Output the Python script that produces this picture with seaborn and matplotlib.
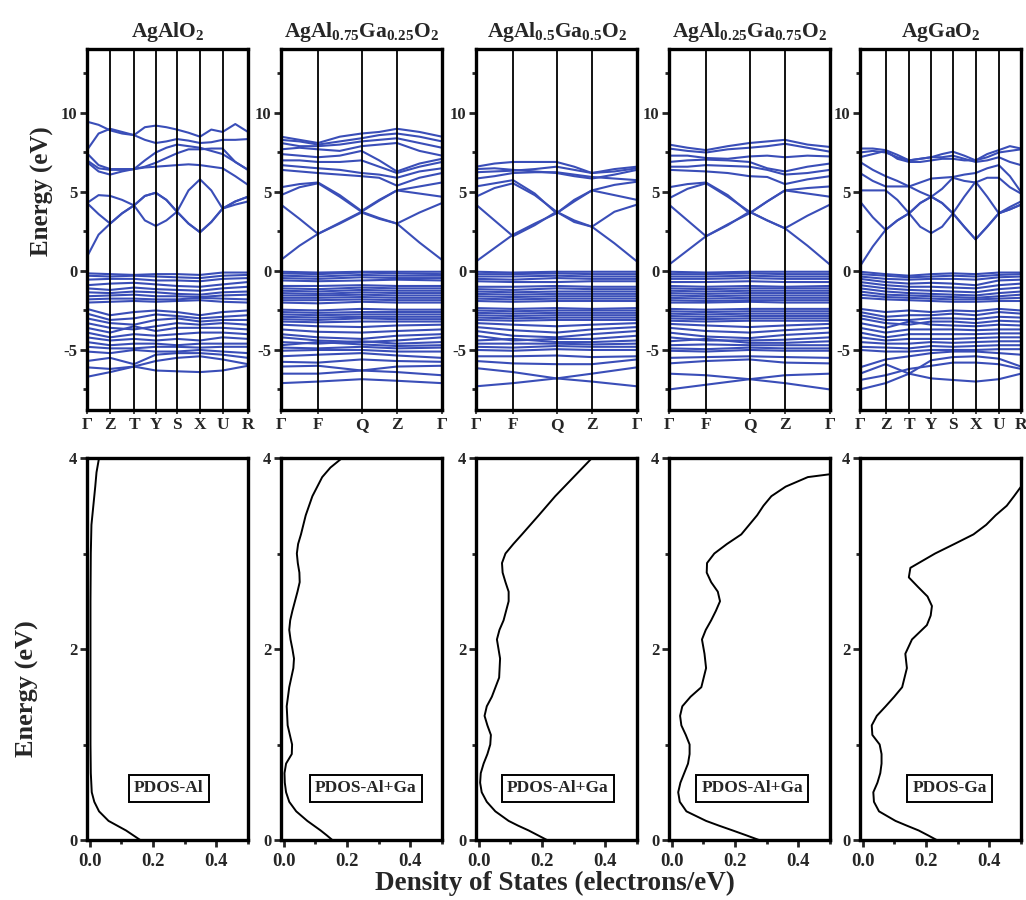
import numpy as np
import pandas as pd
import matplotlib
matplotlib.use("Agg")
import matplotlib.pyplot as plt
import seaborn as sns

# ---------------- data ----------------
titles = [r"AgAlO$_2$", r"AgAl$_{0.75}$Ga$_{0.25}$O$_2$", r"AgAl$_{0.5}$Ga$_{0.5}$O$_2$",
          r"AgAl$_{0.25}$Ga$_{0.75}$O$_2$", r"AgGaO$_2$"]
pdos_labels = ["PDOS-Al", "PDOS-Al+Ga", "PDOS-Al+Ga", "PDOS-Al+Ga", "PDOS-Ga"]

kpath_ortho = ["Γ", "Z", "T", "Y", "S", "X", "U", "R"]
kpath_ortho_pos1 = [0, 0.144, 0.292, 0.427, 0.559, 0.702, 0.842, 1.0]
kpath_ortho_pos5 = [0, 0.159, 0.305, 0.443, 0.577, 0.718, 0.862, 1.0]
kpath_mono = ["Γ", "F", "Q", "Z", "Γ"]
kpath_mono_pos = [0, 0.23, 0.50, 0.72, 1.0]

# conduction bands (values at nodes and midpoints)
cb_agalo2 = [
    [0.9, 2.3, 3.0, 3.65, 4.15, 4.75, 4.95, 4.5, 3.75, 3.0, 2.45, 3.1, 3.95, 4.4, 4.7],
    [4.3, 4.8, 4.75, 4.5, 4.15, 3.2, 2.85, 3.2, 3.75, 5.1, 5.8, 5.1, 3.95, 4.2, 4.4],
    [4.3, 3.6, 3.0, 3.65, 4.15, 4.75, 4.95, 4.5, 3.75, 3.0, 2.45, 3.1, 3.95, 4.4, 4.7],
    [9.45, 9.25, 8.9, 8.7, 8.6, 9.1, 9.2, 9.1, 8.95, 8.75, 8.5, 8.95, 8.8, 9.3, 8.8],
    [7.65, 8.7, 9.0, 8.8, 8.6, 8.3, 8.1, 8.2, 8.35, 8.25, 8.1, 8.15, 8.3, 8.3, 8.35],
    [7.45, 6.7, 6.45, 6.45, 6.45, 6.6, 6.85, 7.15, 7.45, 7.7, 7.7, 7.75, 7.75, 6.9, 6.4],
    [6.9, 6.3, 6.1, 6.3, 6.45, 6.55, 6.6, 6.65, 6.7, 6.75, 6.7, 6.6, 6.5, 6.0, 5.45],
    [7.0, 6.5, 6.4, 6.4, 6.45, 7.0, 7.5, 7.8, 8.0, 7.9, 7.8, 7.6, 7.4, 6.9, 6.4],
]
cb_ag075 = [
    [0.7, 1.6, 2.35, 3.05, 3.75, 4.45, 5.1, 5.35, 5.6],
    [4.2, 3.3, 2.35, 3.0, 3.7, 3.3, 3.0, 1.8, 0.7],
    [4.8, 5.3, 5.55, 4.7, 3.75, 3.35, 3.0, 3.7, 4.3],
    [5.3, 5.5, 5.6, 4.8, 3.8, 4.5, 5.1, 4.9, 4.7],
    [8.5, 8.3, 8.1, 8.5, 8.7, 8.8, 9.0, 8.8, 8.5],
    [8.3, 8.2, 8.0, 8.2, 8.4, 8.6, 8.7, 8.5, 8.2],
    [8.1, 7.9, 7.9, 8.0, 8.2, 8.3, 8.4, 8.1, 7.8],
    [7.7, 7.8, 7.7, 7.6, 7.9, 8.0, 8.1, 7.6, 7.3],
    [7.4, 7.3, 7.2, 7.3, 7.6, 7.0, 6.3, 6.8, 7.1],
    [7.0, 7.0, 6.9, 6.9, 7.0, 6.6, 6.2, 6.6, 6.9],
    [6.7, 6.6, 6.5, 6.4, 6.2, 6.1, 5.9, 6.3, 6.5],
    [6.4, 6.3, 6.2, 6.1, 6.0, 5.9, 5.4, 5.9, 6.2],
]
cb_ag05 = [
    [0.6, 1.45, 2.3, 3.0, 3.65, 4.4, 5.1, 5.45, 5.65],
    [4.2, 3.2, 2.2, 2.9, 3.75, 3.2, 2.8, 1.75, 0.6],
    [4.7, 5.25, 5.55, 4.8, 3.75, 3.1, 2.8, 3.75, 4.2],
    [5.35, 5.55, 5.75, 4.9, 3.65, 4.5, 5.1, 4.8, 4.5],
    [6.6, 6.8, 6.9, 6.9, 6.9, 6.6, 6.2, 6.45, 6.6],
    [6.45, 6.5, 6.4, 6.3, 6.2, 6.0, 5.85, 6.1, 6.4],
    [5.85, 6.0, 6.2, 6.25, 6.25, 6.1, 5.95, 5.85, 5.75],
    [6.25, 6.3, 6.35, 6.45, 6.6, 6.4, 6.2, 6.3, 6.5],
]
cb_ag025 = [
    [0.4, 1.3, 2.2, 2.95, 3.65, 4.4, 5.1, 5.25, 5.35],
    [4.2, 3.2, 2.2, 2.9, 3.75, 3.2, 2.7, 1.6, 0.4],
    [4.6, 5.2, 5.55, 4.7, 3.75, 3.2, 2.7, 3.5, 4.2],
    [5.3, 5.5, 5.6, 4.8, 3.65, 4.4, 5.1, 4.9, 4.7],
    [8.0, 7.8, 7.65, 7.9, 8.1, 8.2, 8.3, 8.0, 7.85],
    [7.75, 7.6, 7.5, 7.7, 7.8, 7.9, 8.05, 7.8, 7.55],
    [7.3, 7.3, 7.15, 7.1, 7.25, 7.3, 7.2, 7.3, 7.25],
    [6.9, 7.0, 7.05, 7.0, 6.9, 6.5, 6.3, 6.6, 6.8],
    [6.6, 6.6, 6.7, 6.65, 6.6, 6.4, 6.1, 6.2, 6.4],
    [6.4, 6.35, 6.3, 6.2, 6.0, 5.95, 5.5, 5.8, 6.0],
]
cb_aggao2 = [
    [0.3, 1.55, 2.6, 3.2, 3.65, 4.3, 4.7, 4.3, 3.65, 2.8, 2.0, 2.8, 3.65, 3.9, 4.2],
    [4.4, 3.4, 2.6, 3.2, 3.65, 4.3, 4.7, 4.3, 3.65, 2.8, 2.0, 2.8, 3.65, 3.9, 4.2],
    [5.1, 5.1, 5.1, 4.5, 3.65, 2.8, 2.4, 2.8, 3.65, 4.7, 5.65, 4.7, 3.65, 4.05, 4.4],
    [7.75, 7.75, 7.65, 7.35, 7.0, 7.1, 7.2, 7.4, 7.55, 7.3, 7.0, 7.4, 7.65, 7.9, 7.75],
    [7.5, 7.6, 7.5, 7.2, 7.0, 7.1, 7.2, 7.2, 7.3, 7.1, 6.9, 7.0, 7.2, 6.9, 6.7],
    [6.9, 6.4, 6.0, 5.7, 5.35, 5.6, 5.85, 5.9, 5.95, 6.1, 6.2, 6.5, 6.7, 6.0, 5.0],
    [6.2, 5.7, 5.35, 5.35, 5.35, 5.0, 4.7, 5.2, 5.9, 5.7, 5.6, 5.9, 5.9, 5.3, 4.9],
    [7.2, 7.4, 7.6, 7.1, 6.9, 6.9, 7.0, 7.1, 7.1, 7.0, 7.0, 7.2, 7.5, 7.6, 7.7],
]

# valence bands (values at high-symmetry nodes)
vb_agalo2 = [
    [-0.15, -0.2, -0.25, -0.2, -0.2, -0.25, -0.1, -0.1],
    [-0.3, -0.35, -0.3, -0.35, -0.4, -0.45, -0.3, -0.25],
    [-0.55, -0.5, -0.5, -0.6, -0.6, -0.65, -0.5, -0.45],
    [-0.9, -0.8, -0.75, -0.85, -0.95, -1.0, -0.85, -0.7],
    [-1.1, -1.2, -1.05, -1.15, -1.2, -1.25, -1.1, -1.0],
    [-1.35, -1.4, -1.3, -1.35, -1.45, -1.5, -1.35, -1.3],
    [-1.6, -1.55, -1.5, -1.6, -1.6, -1.65, -1.55, -1.5],
    [-1.8, -1.75, -1.75, -1.8, -1.8, -1.7, -1.75, -1.8],
    [-2.0, -1.95, -1.9, -1.95, -1.9, -1.85, -1.95, -2.0],
    [-2.4, -2.8, -2.6, -2.5, -2.6, -2.8, -2.6, -2.5],
    [-2.7, -3.1, -3.0, -2.75, -2.85, -3.0, -2.9, -2.8],
    [-3.0, -3.3, -3.4, -3.1, -3.0, -3.2, -3.1, -3.1],
    [-3.3, -3.6, -3.7, -3.5, -3.3, -3.4, -3.3, -3.4],
    [-3.6, -3.9, -3.5, -3.8, -3.6, -3.6, -3.6, -3.7],
    [-3.9, -4.2, -4.0, -4.1, -4.0, -3.9, -3.9, -4.0],
    [-4.2, -4.4, -4.3, -4.4, -4.3, -4.4, -4.2, -4.3],
    [-4.5, -4.7, -4.6, -4.6, -4.7, -4.6, -4.6, -4.6],
    [-4.8, -4.9, -4.9, -4.8, -4.8, -4.85, -4.8, -4.8],
    [-5.1, -5.2, -5.0, -5.1, -5.1, -5.0, -5.1, -5.2],
    [-6.7, -6.4, -6.05, -6.3, -6.35, -6.4, -6.3, -6.0],
    [-6.1, -6.2, -6.05, -5.7, -5.5, -5.4, -5.6, -5.9],
    [-5.7, -5.5, -5.9, -5.3, -5.2, -5.2, -5.3, -5.5],
]
vb_ag075 = [
    [-0.05, -0.1, -0.05, -0.05, -0.05], [-0.15, -0.2, -0.1, -0.15, -0.2],
    [-0.3, -0.35, -0.25, -0.3, -0.3], [-0.45, -0.5, -0.4, -0.45, -0.45],
    [-0.6, -0.65, -0.6, -0.55, -0.6], [-0.95, -0.95, -0.9, -0.95, -0.95],
    [-1.1, -1.15, -1.05, -1.1, -1.1], [-1.25, -1.3, -1.2, -1.25, -1.25],
    [-1.4, -1.45, -1.35, -1.4, -1.4], [-1.55, -1.55, -1.5, -1.55, -1.55],
    [-1.7, -1.7, -1.65, -1.7, -1.7], [-1.85, -1.85, -1.8, -1.85, -1.85],
    [-2.0, -2.05, -1.95, -2.0, -2.0], [-2.45, -2.5, -2.4, -2.45, -2.45],
    [-2.6, -2.65, -2.6, -2.6, -2.6], [-2.75, -2.8, -2.75, -2.75, -2.75],
    [-2.9, -2.95, -2.9, -2.9, -2.9], [-3.05, -3.1, -3.0, -3.05, -3.05],
    [-3.2, -3.25, -3.2, -3.2, -3.2], [-3.4, -3.5, -3.55, -3.45, -3.4],
    [-3.7, -3.85, -3.9, -3.8, -3.7], [-4.0, -4.2, -4.3, -4.1, -4.0],
    [-4.2, -4.4, -4.5, -4.4, -4.2], [-4.5, -4.6, -4.45, -4.6, -4.5],
    [-4.7, -4.5, -4.65, -4.75, -4.7], [-4.85, -4.9, -4.8, -4.9, -4.85],
    [-5.05, -5.0, -5.0, -5.1, -5.1],
    [-7.1, -7.0, -6.85, -6.95, -7.1], [-6.5, -6.5, -6.3, -6.4, -6.6],
    [-6.05, -6.0, -6.3, -6.05, -6.0], [-5.75, -5.8, -5.6, -5.7, -5.75],
    [-5.4, -5.3, -5.2, -5.35, -5.5],
]
vb_ag05 = [
    [-0.05, -0.1, -0.05, -0.05, -0.05], [-0.2, -0.2, -0.15, -0.2, -0.2],
    [-0.35, -0.35, -0.3, -0.35, -0.35], [-0.5, -0.55, -0.45, -0.5, -0.5],
    [-0.65, -0.7, -0.7, -0.65, -0.65], [-1.0, -1.0, -0.95, -1.0, -1.0],
    [-1.15, -1.2, -1.1, -1.15, -1.15], [-1.3, -1.35, -1.3, -1.3, -1.3],
    [-1.45, -1.5, -1.45, -1.45, -1.45], [-1.6, -1.65, -1.6, -1.6, -1.6],
    [-1.75, -1.8, -1.75, -1.75, -1.75], [-1.9, -1.95, -1.9, -1.9, -1.9],
    [-2.35, -2.4, -2.35, -2.4, -2.35], [-2.5, -2.55, -2.5, -2.5, -2.5],
    [-2.65, -2.7, -2.65, -2.65, -2.65], [-2.8, -2.85, -2.8, -2.8, -2.8],
    [-2.95, -3.0, -2.95, -2.95, -2.95], [-3.1, -3.15, -3.1, -3.1, -3.1],
    [-3.3, -3.4, -3.5, -3.4, -3.3], [-3.55, -3.75, -3.9, -3.7, -3.55],
    [-3.8, -4.1, -4.2, -4.0, -3.8], [-4.1, -4.4, -4.3, -4.3, -4.1],
    [-4.4, -4.3, -4.5, -4.5, -4.4], [-4.6, -4.6, -4.6, -4.65, -4.6],
    [-4.8, -4.85, -4.75, -4.8, -4.8], [-5.0, -5.05, -4.95, -5.0, -5.0],
    [-7.3, -7.1, -6.8, -7.0, -7.3], [-6.15, -6.4, -6.8, -6.5, -6.1],
    [-5.7, -5.85, -5.9, -5.9, -5.6], [-5.4, -5.4, -5.35, -5.45, -5.4],
]
vb_ag025 = [
    [-0.05, -0.1, -0.05, -0.05, -0.05], [-0.2, -0.2, -0.15, -0.2, -0.2],
    [-0.35, -0.35, -0.3, -0.35, -0.35], [-0.5, -0.5, -0.45, -0.5, -0.5],
    [-0.7, -0.7, -0.65, -0.7, -0.7], [-0.95, -1.0, -0.95, -1.0, -0.95],
    [-1.1, -1.15, -1.1, -1.1, -1.1], [-1.25, -1.3, -1.25, -1.25, -1.25],
    [-1.4, -1.45, -1.4, -1.4, -1.4], [-1.55, -1.6, -1.55, -1.55, -1.55],
    [-1.7, -1.75, -1.7, -1.7, -1.7], [-1.85, -1.9, -1.85, -1.85, -1.85],
    [-2.0, -2.0, -1.95, -2.0, -2.0], [-2.4, -2.45, -2.4, -2.4, -2.4],
    [-2.55, -2.6, -2.55, -2.55, -2.55], [-2.7, -2.75, -2.7, -2.7, -2.7],
    [-2.85, -2.9, -2.85, -2.85, -2.85], [-3.0, -3.05, -3.0, -3.0, -3.0],
    [-3.15, -3.2, -3.15, -3.15, -3.15], [-3.35, -3.45, -3.55, -3.45, -3.35],
    [-3.6, -3.8, -3.9, -3.75, -3.6], [-3.9, -4.15, -4.25, -4.05, -3.9],
    [-4.2, -4.4, -4.4, -4.35, -4.2], [-4.45, -4.3, -4.55, -4.55, -4.45],
    [-4.7, -4.65, -4.7, -4.7, -4.7], [-4.9, -4.95, -4.85, -4.9, -4.9],
    [-5.05, -5.1, -5.0, -5.05, -5.05],
    [-7.5, -7.2, -6.85, -7.1, -7.5], [-6.5, -6.6, -6.85, -6.6, -6.5],
    [-5.85, -5.7, -5.6, -5.8, -5.85], [-5.5, -5.45, -5.4, -5.45, -5.5],
]
vb_aggao2 = [
    [-0.05, -0.2, -0.3, -0.2, -0.15, -0.2, -0.1, -0.1],
    [-0.2, -0.3, -0.4, -0.35, -0.3, -0.35, -0.25, -0.2],
    [-0.35, -0.5, -0.55, -0.5, -0.5, -0.55, -0.4, -0.35],
    [-0.5, -0.7, -0.8, -0.75, -0.8, -0.9, -0.6, -0.55],
    [-0.7, -0.9, -1.0, -1.0, -1.05, -1.1, -0.9, -0.8],
    [-0.9, -1.1, -1.2, -1.25, -1.3, -1.35, -1.15, -1.05],
    [-1.1, -1.3, -1.4, -1.45, -1.5, -1.55, -1.4, -1.3],
    [-1.3, -1.5, -1.55, -1.6, -1.65, -1.7, -1.6, -1.5],
    [-1.5, -1.65, -1.7, -1.75, -1.8, -1.8, -1.75, -1.7],
    [-1.7, -1.8, -1.85, -1.9, -1.95, -1.95, -1.9, -1.9],
    [-2.4, -2.6, -2.5, -2.6, -2.5, -2.55, -2.4, -2.5],
    [-2.6, -2.9, -2.8, -2.8, -2.7, -2.8, -2.6, -2.7],
    [-2.8, -3.1, -3.1, -3.0, -3.0, -3.05, -2.9, -2.95],
    [-3.0, -3.3, -3.4, -3.2, -3.2, -3.3, -3.15, -3.2],
    [-3.3, -3.6, -3.2, -3.4, -3.45, -3.5, -3.4, -3.45],
    [-3.6, -3.9, -3.7, -3.7, -3.7, -3.75, -3.7, -3.7],
    [-3.9, -4.2, -4.0, -4.0, -4.0, -4.0, -3.95, -3.95],
    [-4.2, -4.4, -4.3, -4.3, -4.3, -4.25, -4.2, -4.2],
    [-4.5, -4.6, -4.6, -4.5, -4.55, -4.5, -4.45, -4.45],
    [-4.8, -4.85, -4.9, -4.75, -4.8, -4.75, -4.7, -4.7],
    [-5.0, -5.1, -5.1, -5.0, -5.0, -5.0, -4.95, -4.95],
    [-7.5, -7.1, -6.5, -6.8, -6.9, -7.0, -6.85, -6.5],
    [-6.5, -5.9, -6.5, -5.65, -5.45, -5.4, -5.55, -6.05],
    [-6.1, -5.6, -5.4, -5.2, -5.1, -5.1, -5.2, -5.3],
    [-6.9, -6.6, -6.2, -6.0, -5.8, -5.8, -5.9, -6.2],
]

# PDOS curves (energy, dos)
pdos_al_E = [0, 0.1, 0.2, 0.3, 0.4, 0.5, 0.7, 1.0, 1.5, 2.0, 2.5, 3.0, 3.3, 3.5, 3.7, 3.85, 4.0]
pdos_al_D = [0.16, 0.115, 0.06, 0.03, 0.015, 0.007, 0.004, 0.003, 0.003, 0.003, 0.003, 0.004,
             0.006, 0.012, 0.018, 0.022, 0.03]
pdos_075_E = [0, 0.05, 0.1, 0.15, 0.2, 0.3, 0.4, 0.5, 0.6, 0.7, 0.8, 0.9, 1.0, 1.1, 1.2, 1.4,
              1.6, 1.8, 1.9, 2.0, 2.1, 2.2, 2.3, 2.4, 2.5, 2.6, 2.7, 2.8, 2.9, 3.0, 3.1, 3.2,
              3.4, 3.6, 3.8, 3.9, 4.0]
pdos_075_D = [0.154, 0.136, 0.117, 0.096, 0.075, 0.04, 0.018, 0.008, 0.004, 0.003, 0.008, 0.026,
              0.027, 0.02, 0.013, 0.01, 0.018, 0.031, 0.033, 0.028, 0.022, 0.018, 0.021, 0.028,
              0.036, 0.044, 0.051, 0.05, 0.045, 0.042, 0.046, 0.055, 0.07, 0.091, 0.122, 0.148,
              0.185]
pdos_05_E = [0, 0.05, 0.1, 0.15, 0.2, 0.3, 0.4, 0.5, 0.6, 0.7, 0.8, 0.9, 1.0, 1.1, 1.2, 1.3,
             1.4, 1.5, 1.7, 1.9, 2.0, 2.1, 2.2, 2.3, 2.5, 2.6, 2.7, 2.8, 2.9, 3.0, 3.1, 3.2,
             3.4, 3.6, 3.8, 4.0]
pdos_05_D = [0.216, 0.187, 0.158, 0.125, 0.095, 0.053, 0.026, 0.01, 0.005, 0.007, 0.016, 0.028,
             0.037, 0.039, 0.028, 0.019, 0.026, 0.042, 0.065, 0.068, 0.063, 0.058, 0.066, 0.079,
             0.095, 0.095, 0.085, 0.076, 0.074, 0.085, 0.11, 0.137, 0.19, 0.242, 0.3, 0.358]
pdos_025_E = [0, 0.05, 0.1, 0.15, 0.2, 0.3, 0.4, 0.5, 0.6, 0.7, 0.8, 0.9, 1.0, 1.1, 1.2, 1.3,
              1.4, 1.5, 1.6, 1.8, 1.95, 2.1, 2.2, 2.3, 2.4, 2.5, 2.6, 2.7, 2.8, 2.9, 3.0, 3.1,
              3.2, 3.4, 3.5, 3.6, 3.7, 3.8, 3.83]
pdos_025_D = [0.276, 0.235, 0.193, 0.15, 0.109, 0.047, 0.026, 0.021, 0.028, 0.04, 0.052, 0.057,
              0.057, 0.045, 0.031, 0.027, 0.034, 0.06, 0.094, 0.109, 0.104, 0.096, 0.108, 0.125,
              0.14, 0.153, 0.146, 0.125, 0.111, 0.112, 0.135, 0.175, 0.22, 0.27, 0.29, 0.315,
              0.36, 0.43, 0.5]
pdos_ga_E = [0, 0.05, 0.1, 0.15, 0.2, 0.3, 0.4, 0.5, 0.6, 0.7, 0.8, 0.9, 1.0, 1.1, 1.2, 1.3,
             1.4, 1.5, 1.6, 1.8, 1.95, 2.1, 2.25, 2.35, 2.45, 2.55, 2.65, 2.75, 2.85, 3.0, 3.1,
             3.2, 3.3, 3.4, 3.5, 3.6, 3.7]
pdos_ga_D = [0.234, 0.206, 0.177, 0.14, 0.104, 0.052, 0.036, 0.034, 0.047, 0.056, 0.06, 0.06,
             0.054, 0.031, 0.029, 0.045, 0.073, 0.1, 0.125, 0.14, 0.135, 0.156, 0.203, 0.215,
             0.219, 0.205, 0.175, 0.146, 0.151, 0.229, 0.29, 0.35, 0.39, 0.42, 0.455, 0.478,
             0.5]

# ---------------- style ----------------
sns.set_style("ticks")
plt.rcParams["font.family"] = ["Liberation Serif", "DejaVu Serif"]
plt.rcParams["font.weight"] = "bold"
plt.rcParams["mathtext.fontset"] = "custom"
plt.rcParams["mathtext.rm"] = "Liberation Serif:bold"
plt.rcParams["mathtext.it"] = "Liberation Serif:bold"
plt.rcParams["mathtext.bf"] = "Liberation Serif:bold"
plt.rcParams["axes.unicode_minus"] = False

BLUE = "#3a4eb8"
W, H = 1026, 900
fig = plt.figure(figsize=(W / 100, H / 100), dpi=100)

lefts = [87, 281, 476, 669, 860]
pw = 161


def frac_rect(x0, y0, x1, y1):
    return [x0 / W, 1 - y1 / H, (x1 - x0) / W, (y1 - y0) / H]


band_sets = [
    (cb_agalo2, vb_agalo2, kpath_ortho, kpath_ortho_pos1),
    (cb_ag075, vb_ag075, kpath_mono, kpath_mono_pos),
    (cb_ag05, vb_ag05, kpath_mono, kpath_mono_pos),
    (cb_ag025, vb_ag025, kpath_mono, kpath_mono_pos),
    (cb_aggao2, vb_aggao2, kpath_ortho, kpath_ortho_pos5),
]
pdos_sets = [(pdos_al_E, pdos_al_D), (pdos_075_E, pdos_075_D), (pdos_05_E, pdos_05_D),
             (pdos_025_E, pdos_025_D), (pdos_ga_E, pdos_ga_D)]
label_x = [0.25, 0.26, 0.25, 0.255, 0.275]


def style_frame(ax):
    for s in ax.spines.values():
        s.set_linewidth(2.4)
        s.set_color("black")
        s.set_visible(True)


for i in range(5):
    cb, vb, klabels, kpos = band_sets[i]
    ax = fig.add_axes(frac_rect(lefts[i], 49, lefts[i] + pw, 410))
    nodes = np.array(kpos)
    fine = np.interp(np.arange(2 * len(nodes) - 1) / 2.0, np.arange(len(nodes)), nodes)
    rows = []
    for b, vals in enumerate(cb):
        for k, e in zip(fine, vals):
            rows.append((k, e, f"c{b}"))
    for b, vals in enumerate(vb):
        for k, e in zip(nodes, vals):
            rows.append((k, e, f"v{b}"))
    df = pd.DataFrame(rows, columns=["k", "E", "band"])
    sns.lineplot(data=df, x="k", y="E", units="band", estimator=None, sort=False,
                 color=BLUE, lw=1.5, ax=ax, legend=False)
    for kp in nodes[1:-1]:
        ax.axvline(kp, color="black", lw=1.3, zorder=3)
    ax.set_xlim(0, 1)
    ax.set_ylim(-8.8, 14.05)
    ax.set_xticks(nodes)
    ax.set_xticklabels(klabels, fontsize=12.5, fontweight="bold")
    ax.set_yticks([-5, 0, 5, 10])
    ax.set_yticks([-7.5, -2.5, 2.5, 7.5, 12.5], minor=True)
    ax.tick_params(axis="y", which="major", direction="out", length=5, width=2,
                   labelsize=12, pad=2)
    ax.tick_params(axis="y", which="minor", direction="out", length=3, width=2)
    ax.tick_params(axis="x", direction="out", length=3, width=1.2, pad=2)
    ax.set_xlabel("")
    ax.set_ylabel("")
    ax.set_title(titles[i], fontsize=15.5, fontweight="bold", pad=9)
    style_frame(ax)

    # PDOS panel
    E, D = pdos_sets[i]
    ax2 = fig.add_axes(frac_rect(lefts[i], 458, lefts[i] + pw, 840))
    sns.lineplot(x=D, y=E, sort=False, orient="y", estimator=None, color="black",
                 lw=1.4, ax=ax2)
    ax2.set_xlim(-0.008, 0.5)
    ax2.set_ylim(0, 4)
    ax2.set_xticks([0.0, 0.2, 0.4])
    ax2.set_xticklabels(["0.0", "0.2", "0.4"])
    ax2.set_xticks([0.1, 0.3, 0.5], minor=True)
    ax2.set_yticks([0, 2, 4])
    ax2.set_yticks([1, 3], minor=True)
    ax2.tick_params(axis="x", which="major", direction="out", length=5, width=2,
                    labelsize=13.5, pad=4)
    ax2.tick_params(axis="x", which="minor", direction="out", length=3, width=2)
    ax2.tick_params(axis="y", which="major", direction="out", length=5, width=2,
                    labelsize=12, pad=2)
    ax2.tick_params(axis="y", which="minor", direction="out", length=3, width=2)
    ax2.set_xlabel("")
    ax2.set_ylabel("")
    style_frame(ax2)
    ax2.text(label_x[i], 0.54, pdos_labels[i], fontsize=12.5, fontweight="bold",
             ha="center", va="center",
             bbox=dict(boxstyle="square,pad=0.3", fc="white", ec="black", lw=1.4))

fig.text(42 / W, 1 - 191 / H, "Energy (eV)", rotation=90, fontsize=18,
         fontweight="bold", ha="center", va="center")
fig.text(27 / W, 1 - 689 / H, "Energy (eV)", rotation=90, fontsize=19,
         fontweight="bold", ha="center", va="center")
fig.text(555 / W, 1 - 883 / H, "Density of States (electrons/eV)", fontsize=19.5,
         fontweight="bold", ha="center", va="center")

fig.savefig("out.png", dpi=100, facecolor="white")
